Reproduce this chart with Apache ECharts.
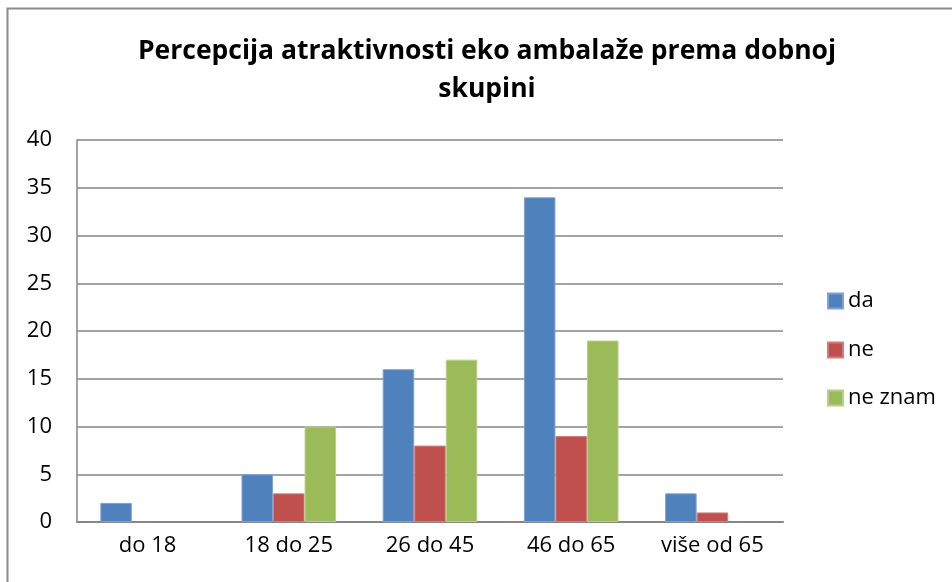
<!DOCTYPE html>
<html><head><meta charset="utf-8">
<script src="https://cdn.jsdelivr.net/npm/echarts@6/dist/echarts.min.js"></script>
<style>html,body{margin:0;padding:0;background:#fff}#c{width:952px;height:582px}</style>
</head><body><div id="c"></div>
<script>
const titleLines = ['Percepcija atraktivnosti eko ambalaže prema dobnoj', 'skupini'];
const categories = ['do 18', '18 do 25', '26 do 45', '46 do 65', 'više od 65'];
const seriesNames = ['da', 'ne', 'ne znam'];
const daValues = [2, 5, 16, 34, 3];
const neValues = [0, 3, 8, 9, 1];
const neZnamValues = [0, 10, 17, 19, 0];
const yTicks = [0, 5, 10, 15, 20, 25, 30, 35, 40];

const colors = ['#4F81BD', '#C0504D', '#9BBB59'];
const borders = ['#7FA3CF', '#D27D7B', '#B8D08A'];
const FONT = '"Open Sans", sans-serif';
const chart = echarts.init(document.getElementById('c'));
const values = [daValues, neValues, neZnamValues];

const legendTops = [290, 339, 387];
chart.setOption({
  animation: false,
  color: colors,
  title: {
    text: titleLines.join('\n'),
    left: 487, top: 32, textAlign: 'center', padding: 0,
    textStyle: {fontFamily: FONT, fontWeight: 'bold', fontSize: 26.5, lineHeight: 38, color: '#000'}
  },
  graphic: [{type: 'rect', shape: {x: 7.5, y: 8.5, width: 1000, height: 1000},
    style: {fill: 'none', stroke: '#8a8a8a', lineWidth: 2}}],
  legend: seriesNames.map((n, i) => ({
    data: [n], left: 827, top: legendTops[i], itemWidth: 15, itemHeight: 15, itemGap: 6,
    icon: 'rect', selectedMode: false, padding: 0,
    textStyle: {fontFamily: FONT, fontSize: 22, color: '#000', padding: [0, 0, 0, 0]}
  })),
  grid: {left: 77, right: 952 - 783, top: 140, bottom: 582 - 522, containLabel: false},
  xAxis: {
    type: 'category', data: categories,
    axisLine: {lineStyle: {color: '#868686', width: 2}},
    axisTick: {show: false},
    axisLabel: {fontFamily: FONT, fontSize: 22, color: '#000', margin: 13}
  },
  yAxis: {
    type: 'value', min: yTicks[0], max: yTicks[yTicks.length - 1], interval: 5,
    axisLine: {show: true, lineStyle: {color: '#868686', width: 1.5}},
    axisTick: {show: false},
    splitLine: {lineStyle: {color: '#868686', width: 1.5}},
    axisLabel: {fontFamily: FONT, fontSize: 22, color: '#000', margin: 25}
  },
  series: seriesNames.map((n, i) => ({
    name: n, type: 'bar', data: values[i].map(v => v === 0 ? '-' : v),
    barGap: '0%', barCategoryGap: '33%',
    itemStyle: {color: colors[i], borderColor: borders[i], borderWidth: 1}
  }))
});
</script></body></html>
